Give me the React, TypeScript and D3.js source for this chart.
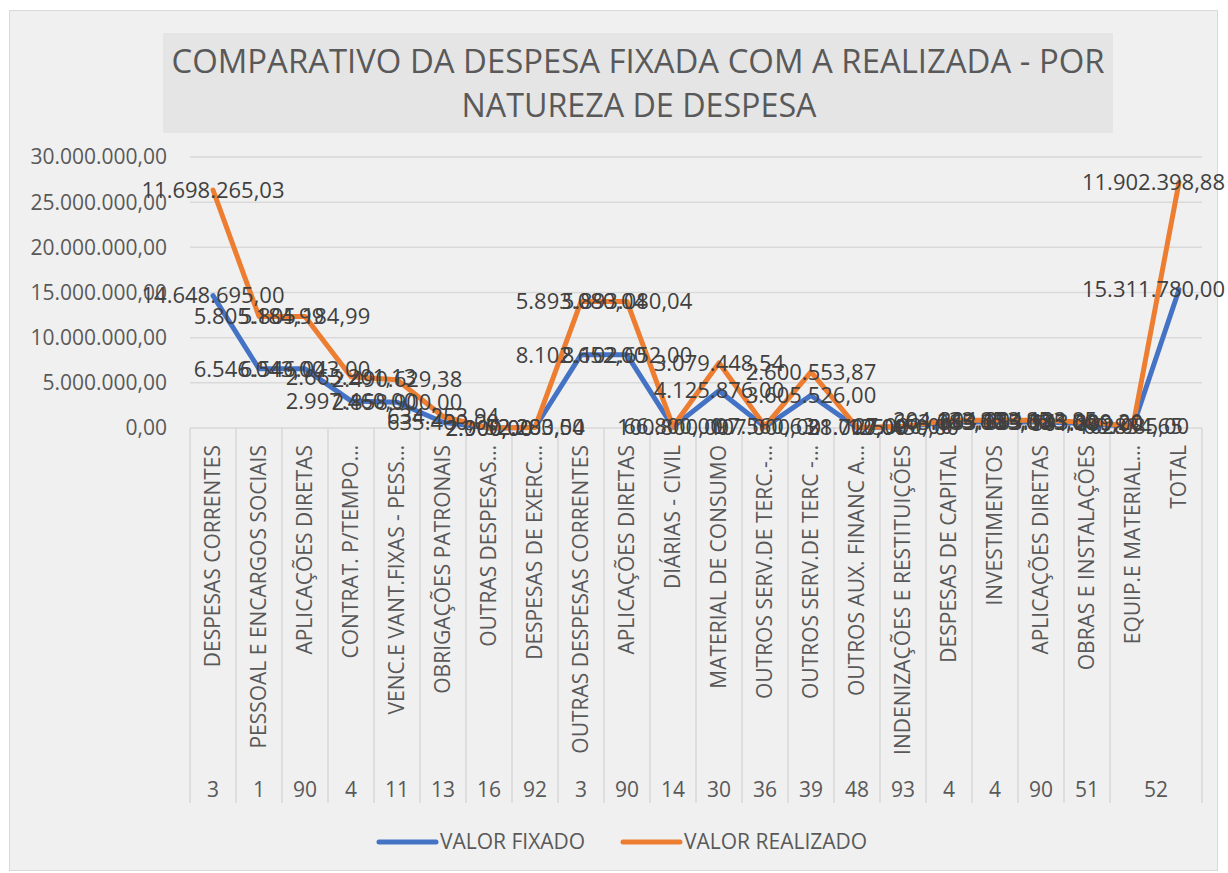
import React from 'react';
import * as d3 from 'd3';

// categorias (nível interno do eixo)
const categories = [
    'DESPESAS CORRENTES',
    'PESSOAL E ENCARGOS SOCIAIS',
    'APLICAÇÕES DIRETAS',
    'CONTRAT. P/TEMPO…',
    'VENC.E VANT.FIXAS - PESS…',
    'OBRIGAÇÕES PATRONAIS',
    'OUTRAS DESPESAS…',
    'DESPESAS DE EXERC…',
    'OUTRAS DESPESAS CORRENTES',
    'APLICAÇÕES DIRETAS',
    'DIÁRIAS - CIVIL',
    'MATERIAL DE CONSUMO',
    'OUTROS SERV.DE TERC.-…',
    'OUTROS SERV.DE TERC -…',
    'OUTROS AUX. FINANC A…',
    'INDENIZAÇÕES E RESTITUIÇÕES',
    'DESPESAS DE CAPITAL',
    'INVESTIMENTOS',
    'APLICAÇÕES DIRETAS',
    'OBRAS E INSTALAÇÕES',
    'EQUIP.E MATERIAL…',
    'TOTAL',
];

// nível externo: código e quantas categorias ele cobre
const outerCodes = ['3', '1', '90', '4', '11', '13', '16', '92', '3', '90', '14', '30', '36', '39', '48', '93', '4', '4', '90', '51', '52'];
const outerSpans = [1, 1, 1, 1, 1, 1, 1, 1, 1, 1, 1, 1, 1, 1, 1, 1, 1, 1, 1, 1, 2];

const valorFixado = [
    14648695.00, 6546043.00, 6546043.00, 2997460.00, 2858900.00, 635400.00, 2000.00, 52283.00,
    8102652.00, 8102652.00, 100800.00, 4125876.00, 107000.00, 3605526.00, 38000.00, 125450.00,
    663085.00, 663085.00, 663085.00, 501000.00, 162085.00, 15311780.00,
];

const valorRealizado = [
    11698265.03, 5805184.99, 5805184.99, 2665201.13, 2490629.38, 634253.94, 2900.00, 12200.54,
    5893080.04, 5893080.04, 66800.00, 3079448.54, 97560.63, 2600553.87, 21717.00, 27000.00,
    204133.85, 204133.85, 204133.85, 143299.20, 60834.65, 11902398.88,
];

const yTicks = [0, 5000000, 10000000, 15000000, 20000000, 25000000, 30000000];

const seriesNames = ['VALOR FIXADO', 'VALOR REALIZADO'];
const seriesColors = ['#4472C4', '#ED7D31'];

const ptBR = d3.formatLocale({ decimal: ',', thousands: '.', grouping: [3], currency: ['R$', ''] });
const fmt = ptBR.format(',.2f');

const FONT = '"Open Sans", sans-serif';
const AXIS_COLOR = '#595959';
const GRID = '#d9d9d9';
const LABEL_SIZE = 22;
const RIGHT_LIMIT = 1225;

// largura aproximada de um rótulo numérico
const labelWidth = (s: string) =>
    s.split('').reduce((w, ch) => w + (/[0-9]/.test(ch) ? 0.572 : 0.26), 0) * LABEL_SIZE;

const App = () => {
    const x = d3.scaleBand<number>()
        .domain(d3.range(categories.length))
        .range([190, 1202]);
    const y = d3.scaleLinear().domain([0, 30000000]).range([428, 157]);

    // linhas empilhadas
    const rows = categories.map((c, i) => ({ i, fix: valorFixado[i], real: valorRealizado[i] }));
    const stacked = d3.stack<any>().keys(['fix', 'real'])(rows);

    const line = d3.line<any>()
        .x(d => x(d.data.i)! + x.bandwidth() / 2)
        .y(d => y(d[1]));

    const axisBottom = 803;

    // limites dos grupos externos
    let acc = 0;
    const groups = outerCodes.map((code, k) => {
        const start = acc;
        acc += outerSpans[k];
        return { code, start, end: acc };
    });

    return (
        <svg width={1228} height={873} style={{ position: 'absolute', left: 0, top: 0 }}
             fontFamily={FONT}>
            <rect x={9.5} y={10.5} width={1208} height={860} fill="#f0f0f0" stroke="#d9d9d9" />

            {/* título */}
            <rect x={163} y={33} width={950} height={100} fill="#e5e5e5" />
            <text x={638} y={73} textAnchor="middle" fontSize={32} fill={AXIS_COLOR}
                  textLength={933} lengthAdjust="spacingAndGlyphs">
                COMPARATIVO DA DESPESA FIXADA COM A REALIZADA - POR
            </text>
            <text x={639} y={117} textAnchor="middle" fontSize={32} fill={AXIS_COLOR}
                  textLength={355} lengthAdjust="spacingAndGlyphs">
                NATUREZA DE DESPESA
            </text>

            {/* grade e eixo y */}
            {yTicks.map(t => (
                <g key={t}>
                    <line x1={190} x2={1202} y1={y(t)} y2={y(t)} stroke={GRID} strokeWidth={1.5} />
                    <text x={167} y={y(t)} dy="0.35em" textAnchor="end" fontSize={21} fill={AXIS_COLOR}>
                        {fmt(t)}
                    </text>
                </g>
            ))}

            {/* eixo de categorias multinível */}
            {groups.map((g, k) => (
                <g key={k}>
                    <line x1={x(g.start)} x2={x(g.start)} y1={428} y2={axisBottom} stroke={GRID} strokeWidth={1.5} />
                    <text x={(x(g.start)! + x(g.end - 1)! + x.bandwidth()) / 2} y={797}
                          textAnchor="middle" fontSize={21} fill={AXIS_COLOR}>{g.code}</text>
                </g>
            ))}
            <line x1={1202} x2={1202} y1={428} y2={axisBottom} stroke={GRID} strokeWidth={1.5} />
            {categories.map((c, i) => (
                <text key={i} transform={`translate(${x(i)! + x.bandwidth() / 2},445) rotate(-90)`}
                      dy="0.35em" textAnchor="end" fontSize={21} fill={AXIS_COLOR}>{c}</text>
            ))}

            {/* séries */}
            {stacked.map((s, k) => (
                <path key={k} d={line(s)!} fill="none" stroke={seriesColors[k]} strokeWidth={5}
                      strokeLinejoin="round" strokeLinecap="round" />
            ))}

            {/* rótulos de dados */}
            {stacked.map((s, k) => (
                <g key={k}>
                    {s.map((d: any, i: number) => {
                        const txt = fmt(d[1] - d[0]);
                        const cx = x(i)! + x.bandwidth() / 2;
                        const overflow = cx + labelWidth(txt) / 2 > RIGHT_LIMIT;
                        return (
                            <text key={i} x={overflow ? RIGHT_LIMIT : cx} y={y(d[1])} dy="0.35em"
                                  textAnchor={overflow ? 'end' : 'middle'} fontSize={LABEL_SIZE} fill="#404040">
                                {txt}
                            </text>
                        );
                    })}
                </g>
            ))}

            {/* legenda */}
            {seriesNames.map((n, k) => {
                const lx = k === 0 ? 379 : 623;
                return (
                    <g key={n}>
                        <line x1={lx} x2={lx + 57} y1={842} y2={842} stroke={seriesColors[k]}
                              strokeWidth={5} strokeLinecap="round" />
                        <text x={lx + 61} y={842} dy="0.35em" fontSize={21} fill={AXIS_COLOR}>{n}</text>
                    </g>
                );
            })}
        </svg>
    );
};

export default App;
